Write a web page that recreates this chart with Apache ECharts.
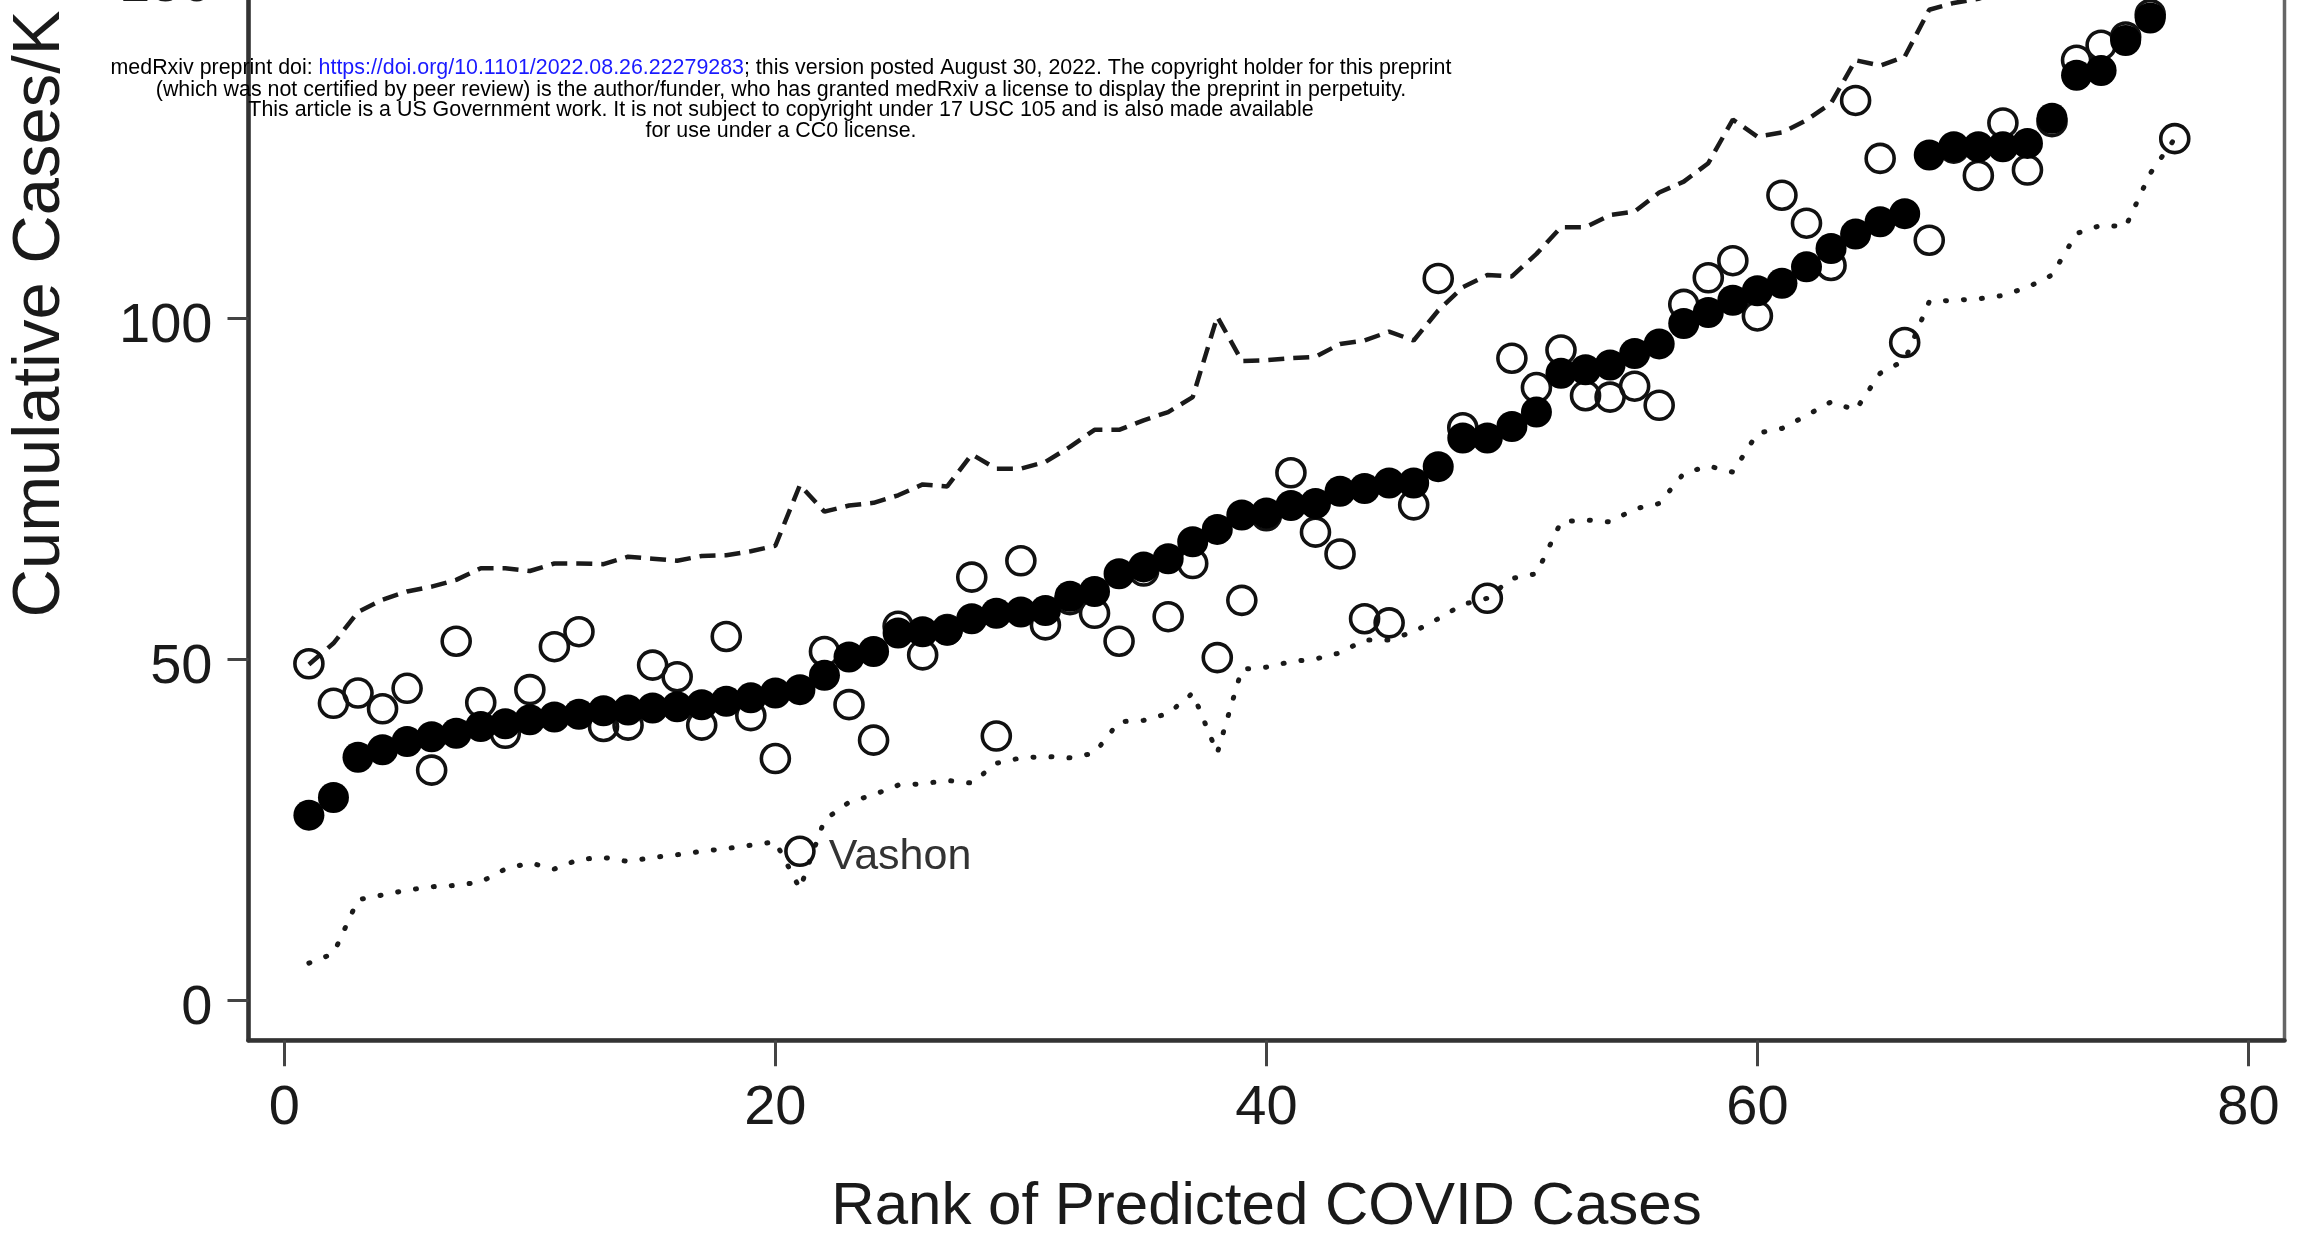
<!DOCTYPE html>
<html><head><meta charset="utf-8">
<script src="https://cdn.jsdelivr.net/npm/echarts@6/dist/echarts.min.js"></script>
<style>html,body{margin:0;padding:0;background:#fff}#c{width:2310px;height:1236px}</style>
</head><body><div id="c"></div>
<script>
// Predicted cumulative cases/K (filled circles), by rank 1..76
const predicted = [27.1, 29.7, 35.6, 36.7, 37.9, 38.6, 39.1, 40.1, 40.5, 41.1,
  41.5, 41.9, 42.4, 42.5, 42.8, 43.0, 43.3, 43.8, 44.3, 45.0,
  45.5, 47.6, 50.3, 51.1, 53.8, 54.0, 54.2, 55.9, 56.7, 56.9,
  57.1, 59.2, 59.9, 62.5, 63.5, 64.7, 67.2, 69.0, 71.1, 71.4,
  72.5, 72.8, 74.6, 75.0, 75.8, 75.8, 78.2, 82.4, 82.4, 84.1,
  86.2, 91.9, 92.4, 93.1, 94.8, 96.2, 99.2, 100.8, 102.6, 104.0,
  105.1, 107.5, 110.2, 112.3, 114.1, 115.3, 123.9, 125.1, 125.1, 125.1,
  125.6, 129.3, 135.6, 136.3, 140.7, 144.0];
// Observed cumulative cases/K (hollow circles), by rank 1..77
const observed = [49.3, 43.5, 45.0, 42.7, 45.7, 33.7, 52.6, 43.6, 39.1, 45.5,
  51.8, 54.0, 40.1, 40.3, 49.1, 47.4, 40.3, 53.3, 41.7, 35.4,
  21.8, 51.1, 43.3, 38.1, 54.8, 50.6, 54.3, 62.0, 38.7, 64.4,
  55.0, 58.7, 56.7, 52.6, 62.9, 56.2, 64.0, 50.2, 58.6, 71.0,
  77.3, 68.6, 65.4, 55.9, 55.3, 72.6, 105.8, 83.9, 58.9, 94.1,
  89.8, 95.3, 88.6, 88.4, 90.0, 87.2, 102.0, 105.9, 108.4, 100.3,
  118.0, 113.9, 107.7, 131.9, 123.4, 96.4, 111.4, 124.9, 120.9, 128.6,
  121.7, 128.8, 137.8, 140.0, 141.2, 144.5, 126.3];
// Upper bound (dashed), by rank 1..
const upperBound = [49.2, 52.3, 56.9, 58.7, 59.9, 60.6, 61.6, 63.3, 63.3, 62.9,
  64.0, 64.0, 63.9, 65.0, 64.7, 64.4, 65.1, 65.2, 65.8, 66.6,
  75.5, 71.6, 72.5, 72.9, 74.0, 75.6, 75.3, 80.0, 77.9, 77.9,
  78.9, 81.1, 83.6, 83.6, 85.0, 86.2, 88.4, 100.2, 93.7, 93.8,
  94.1, 94.3, 96.2, 96.7, 98.0, 96.7, 101.1, 104.5, 106.3, 106.1,
  109.4, 113.3, 113.3, 115.1, 115.6, 118.4, 120.0, 122.7, 129.1, 126.6,
  127.2, 129.0, 131.5, 137.8, 137.0, 138.3, 145.2, 146.2, 146.8, 148.0,
  150.0, 154.0];
// Lower bound (dotted), by rank 1..77
const lowerBound = [5.4, 6.8, 14.7, 15.4, 16.1, 16.6, 16.8, 17.3, 19.2, 20.1,
  19.2, 20.6, 20.9, 20.3, 20.9, 21.3, 21.8, 22.2, 22.7, 23.2,
  16.3, 26.4, 29.0, 30.1, 31.5, 31.7, 32.2, 31.8, 34.7, 35.5,
  35.7, 35.5, 36.2, 40.8, 41.0, 42.0, 45.0, 36.2, 48.5, 48.8,
  49.6, 50.0, 50.9, 52.8, 52.8, 54.0, 55.9, 58.0, 58.9, 61.8,
  62.5, 70.1, 70.4, 70.1, 72.0, 72.8, 77.2, 78.3, 77.4, 83.1,
  83.8, 85.7, 87.7, 86.5, 91.9, 93.8, 102.4, 102.6, 102.8, 103.3,
  104.5, 106.3, 112.4, 113.6, 113.4, 121.2, 126.3];

const xTicks = [0, 20, 40, 60, 80];
const yTicks = [0, 50, 100, 150];
const labelledRank = 21;
const labelledName = 'Vashon';
const xTitle = 'Rank of Predicted COVID Cases';
const yTitle = 'Cumulative Cases/K';
const headerLink = 'https://doi.org/10.1101/2022.08.26.22279283';
const headerLines = [
  '{t|medRxiv preprint doi: }{l|' + headerLink + '}{t|; this version posted August 30, 2022. The copyright holder for this preprint}',
  '(which was not certified by peer review) is the author/funder, who has granted medRxiv a license to display the preprint in perpetuity.',
  'This article is a US Government work. It is not subject to copyright under 17 USC 105 and is also made available',
  'for use under a CC0 license.'
];

const FONT = '"Liberation Sans", Arial, Helvetica, sans-serif';
const toPairs = arr => arr.map((v, k) => [k + 1, v]);

const observedData = toPairs(observed).map(p => p[0] === labelledRank ? {
  value: p,
  label: { show: true, position: 'right', distance: 13, formatter: labelledName,
    fontFamily: FONT, fontSize: 43, color: '#333', verticalAlign: 'top', lineHeight: 12 }
} : p);

const HFS = 21.4;
const headerY = [68, 90, 110, 131.5];
const graphics = headerLines.map((t, k) => ({
  type: 'text', x: 781, y: headerY[k], z: 100,
  style: {
    text: t, fontFamily: FONT, fontSize: HFS, fill: '#000',
    align: 'center', verticalAlign: 'middle',
    rich: { t: { fontFamily: FONT, fontSize: HFS, fill: '#000' },
            l: { fontFamily: FONT, fontSize: HFS, fill: '#1a1aff' } }
  }
}));
graphics.push({
  type: 'text', x: 41, y: 314, rotation: Math.PI / 2,
  style: { text: yTitle, fontFamily: FONT, fontSize: 67, fill: '#1a1a1a',
    align: 'center', verticalAlign: 'middle' }
});

const chart = echarts.init(document.getElementById('c'), null, { renderer: 'canvas' });
chart.setOption({
  backgroundColor: '#fff',
  animation: false,
  grid: { left: 248.5, right: 25.5, top: -23, bottom: 195.8, show: true,
    containLabel: false, outerBoundsMode: 'none',
    borderColor: '#666', borderWidth: 3.5, backgroundColor: 'transparent' },
  xAxis: {
    type: 'value', min: -1.46, max: 81.47,
    name: xTitle, nameLocation: 'middle', nameGap: 137,
    nameTextStyle: { fontFamily: FONT, fontSize: 60, color: '#1a1a1a', verticalAlign: 'top' },
    axisLine: { show: true, onZero: false, lineStyle: { color: '#333', width: 4.5 } },
    axisTick: { show: true, customValues: xTicks, length: 26, lineStyle: { color: '#444', width: 3 } },
    axisLabel: { show: true, customValues: xTicks, margin: 40, fontFamily: FONT, fontSize: 56, color: '#1a1a1a' },
    splitLine: { show: false }
  },
  yAxis: {
    type: 'value', min: -5.9, max: 150,
    axisLine: { show: true, onZero: false, lineStyle: { color: '#333', width: 4.5 } },
    axisTick: { show: true, customValues: yTicks, length: 21, lineStyle: { color: '#444', width: 3 } },
    axisLabel: { show: true, customValues: yTicks, margin: 36, fontFamily: FONT, fontSize: 56, color: '#1a1a1a',
      verticalAlign: 'top', lineHeight: 18 },
    splitLine: { show: false }
  },
  graphic: graphics,
  series: [
    { type: 'line', data: toPairs(upperBound), showSymbol: false, z: 1, silent: true,
      lineStyle: { color: '#1a1a1a', width: 4.5, type: [16, 9] } },
    { type: 'line', data: toPairs(lowerBound), showSymbol: false, z: 1, silent: true,
      lineStyle: { color: '#1a1a1a', width: 5, type: [1, 17], cap: 'round' } },
    { type: 'scatter', data: observedData, symbol: 'circle', symbolSize: 28, z: 2,
      itemStyle: { color: 'rgba(0,0,0,0)', borderColor: '#111', borderWidth: 3.6, opacity: 1 } },
    { type: 'scatter', data: toPairs(predicted), symbol: 'circle', symbolSize: 31, z: 3,
      itemStyle: { color: '#000', opacity: 1 } }
  ]
});
</script>
</body></html>
